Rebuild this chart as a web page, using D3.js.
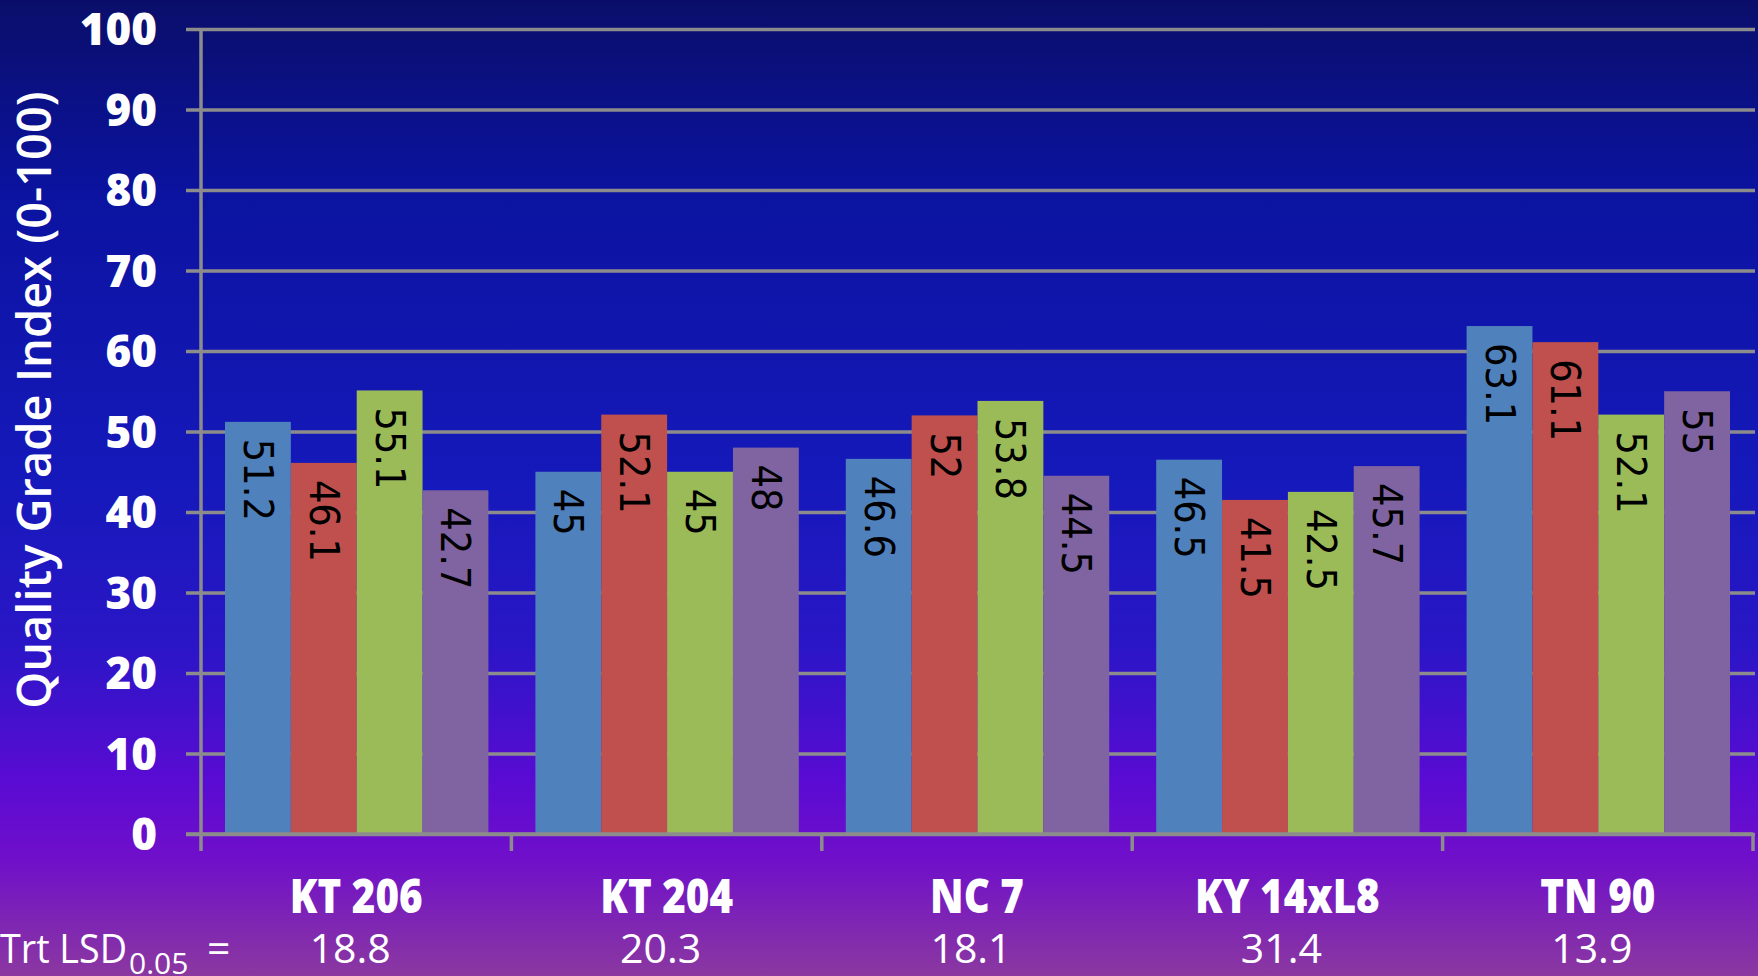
<!DOCTYPE html>
<html>
<head>
<meta charset="utf-8">
<script src="https://cdn.jsdelivr.net/npm/d3@7"></script>
<style>
  html, body { margin: 0; padding: 0; overflow: hidden; }
  svg { display: block; }
</style>
</head>
<body>
<script>
//chart data
var categories = ["KT 206", "KT 204", "NC 7", "KY 14xL8", "TN 90"];
var seriesKeys = ["s1", "s2", "s3", "s4"];
var s1 = [51.2, 45, 46.6, 46.5, 63.1];
var s2 = [46.1, 52.1, 52, 41.5, 61.1];
var s3 = [55.1, 45, 53.8, 42.5, 52.1];
var s4 = [42.7, 48, 44.5, 45.7, 55];
var lsd = ["18.8", "20.3", "18.1", "31.4", "13.9"];
var yTicks = [0, 10, 20, 30, 40, 50, 60, 70, 80, 90, 100];
var colors = ["#4f81bd", "#c0504d", "#9bbb59", "#8064a2"];

var w = 1758, h = 976;
var plotLeft = 201, plotRight = 1753, plotTop = 29, plotBottom = 834;

var svg = d3.select("body").append("svg")
    .attr("width", w)
    .attr("height", h);

//background gradient
var grad = svg.append("defs").append("linearGradient")
    .attr("id", "bg")
    .attr("x1", 0).attr("y1", 0).attr("x2", 0).attr("y2", 1);
[[0, "#0a0e6a"], [0.2, "#0b13a0"], [0.5, "#1619bb"], [0.66, "#2a16c6"],
 [0.8, "#5a0bd3"], [0.88, "#700fca"], [1, "#8b38a0"]].forEach(function(s){
    grad.append("stop").attr("offset", s[0]).attr("stop-color", s[1]);
});
svg.append("rect").attr("width", w).attr("height", h).attr("fill", "url(#bg)");

//scales
var y = d3.scaleLinear().domain([0, 100]).range([plotBottom, plotTop]);
var x0 = d3.scaleBand().domain(categories).range([plotLeft, plotRight]).padding(0);
var x1 = d3.scaleBand().domain(seriesKeys).range([24, x0.bandwidth() - 23]).padding(0);

var rows = categories.map(function(c, i){
    return { cat: c, values: [s1[i], s2[i], s3[i], s4[i]] };
});

//gridlines + y tick labels
var yAxis = d3.axisLeft(y)
    .tickValues(yTicks)
    .tickSize(-(w - 3 - plotLeft))
    .tickPadding(44)
    .tickFormat(d3.format("d"));

var gy = svg.append("g")
    .attr("transform", "translate(" + plotLeft + ",0)")
    .call(yAxis);
gy.select(".domain").remove();
gy.selectAll(".tick line")
    .attr("x1", -15)
    .attr("stroke", "#8c8c8c")
    .attr("stroke-width", 3.5);
gy.selectAll(".tick text")
    .attr("fill", "#fff")
    .attr("dy", "0.36em")
    .style("font-family", "'Open Sans'")
    .style("font-weight", 800)
    .style("font-size", "44px");

//bars
var groups = svg.selectAll(".grp")
    .data(rows)
    .enter()
    .append("g")
    .attr("class", "grp")
    .attr("transform", function(d){ return "translate(" + x0(d.cat) + ",0)"; });

groups.selectAll("rect")
    .data(function(d){ return d.values.map(function(v, j){ return { key: seriesKeys[j], v: v, j: j }; }); })
    .enter()
    .append("rect")
    .attr("x", function(d){ return x1(d.key); })
    .attr("y", function(d){ return y(d.v); })
    .attr("width", x1.bandwidth())
    .attr("height", function(d){ return plotBottom - y(d.v); })
    .attr("fill", function(d){ return colors[d.j]; });

//rotated value labels
groups.selectAll(".val")
    .data(function(d){ return d.values.map(function(v, j){ return { key: seriesKeys[j], v: v }; }); })
    .enter()
    .append("text")
    .attr("class", "val")
    .attr("transform", function(d){
        return "translate(" + (x1(d.key) + x1.bandwidth() / 2) + "," + (y(d.v) + 17) + ") rotate(90)";
    })
    .attr("dominant-baseline", "central")
    .style("font-family", "'DejaVu Sans Condensed', 'DejaVu Sans'")
    .style("font-stretch", "condensed")
    .style("font-size", "41px")
    .attr("fill", "#000")
    .text(function(d){ return d.v; });

//y axis line
svg.append("line")
    .attr("x1", plotLeft).attr("x2", plotLeft)
    .attr("y1", plotTop).attr("y2", plotBottom + 17)
    .attr("stroke", "#8c8c8c")
    .attr("stroke-width", 3.5);

//x axis line and ticks at band edges
svg.append("line")
    .attr("x1", plotLeft - 15).attr("x2", plotRight)
    .attr("y1", plotBottom).attr("y2", plotBottom)
    .attr("stroke", "#8c8c8c")
    .attr("stroke-width", 3.5);

var edges = categories.map(function(c){ return x0(c); }).concat([plotRight]);
svg.selectAll(".xtick")
    .data(edges.slice(1))
    .enter()
    .append("line")
    .attr("x1", function(d){ return d; }).attr("x2", function(d){ return d; })
    .attr("y1", plotBottom).attr("y2", plotBottom + 17)
    .attr("stroke", "#8c8c8c")
    .attr("stroke-width", 3.5);

//category labels
svg.selectAll(".cat")
    .data(categories)
    .enter()
    .append("text")
    .attr("class", "cat")
    .attr("transform", function(d){
        return "translate(" + (x0(d) + x0.bandwidth() / 2) + ",913) scale(0.84,1)";
    })
    .attr("text-anchor", "middle")
    .attr("fill", "#fff")
    .style("font-family", "'Open Sans'")
    .style("font-weight", 800)
    .style("font-size", "48px")
    .text(function(d){ return d; });

//LSD row
svg.selectAll(".lsd")
    .data(lsd)
    .enter()
    .append("text")
    .attr("class", "lsd")
    .attr("x", function(d, i){ return x0(categories[i]) + x0.bandwidth() / 2 - 6; })
    .attr("y", 963)
    .attr("text-anchor", "middle")
    .attr("fill", "#fff")
    .style("font-family", "'Open Sans'")
    .style("font-size", "41px")
    .text(function(d){ return d; });

var trt = svg.append("text")
    .attr("x", 0)
    .attr("y", 963)
    .attr("fill", "#fff")
    .style("font-family", "'Open Sans'")
    .style("font-size", "41px");
trt.append("tspan").attr("textLength", 127).attr("lengthAdjust", "spacingAndGlyphs").text("Trt LSD");
trt.append("tspan").attr("x", 129).attr("dy", 11).style("font-size", "30px").text("0.05");
trt.append("tspan").attr("x", 207).attr("dy", -11).text("=");

//y axis title
svg.append("text")
    .attr("transform", "translate(51,400) rotate(-90)")
    .attr("text-anchor", "middle")
    .attr("fill", "#fff")
    .style("font-family", "'Open Sans'")
    .style("font-weight", 600)
    .style("font-size", "47px")
    .text("Quality Grade Index (0-100)");
</script>
</body>
</html>
